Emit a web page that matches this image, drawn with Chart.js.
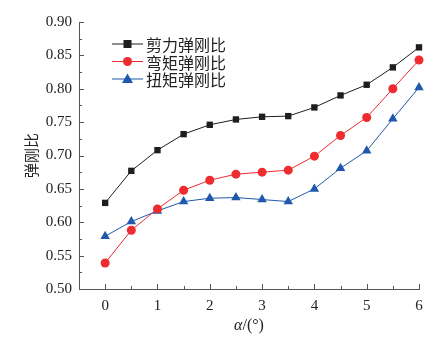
<!DOCTYPE html>
<html>
<head>
<meta charset="utf-8">
<script src="https://cdn.jsdelivr.net/npm/chart.js@4.4.1/dist/chart.umd.min.js"></script>
<style>
html,body{margin:0;padding:0;background:#fff;}
#wrap{position:relative;width:447px;height:339px;}
</style>
</head>
<body>
<div id="wrap"><canvas id="c" width="447" height="339"></canvas></div>
<script>
const alphaDeg = [0, 0.5, 1, 1.5, 2, 2.5, 3, 3.5, 4, 4.5, 5, 5.5, 6];
const shearRatio   = [0.629, 0.677, 0.708, 0.732, 0.746, 0.754, 0.758, 0.759, 0.772, 0.790, 0.806, 0.832, 0.862];
const bendingRatio = [0.539, 0.588, 0.620, 0.648, 0.663, 0.672, 0.675, 0.678, 0.699, 0.730, 0.757, 0.800, 0.843];
const torsionRatio = [0.579, 0.601, 0.617, 0.631, 0.636, 0.637, 0.634, 0.631, 0.650, 0.681, 0.707, 0.755, 0.802];
const seriesNames = ['剪力弹刚比', '弯矩弹刚比', '扭矩弹刚比'];
const xTicks = [0, 1, 2, 3, 4, 5, 6];
const yTicks = [0.50, 0.55, 0.60, 0.65, 0.70, 0.75, 0.80, 0.85, 0.90];
const xTitle = ['α', '/(°)'];
const yTitle = '弹刚比';

const colors = ['#1e1e1e', '#ee2b2f', '#2059ab'];
const markers = ['rect', 'circle', 'triangle'];
const radii = [4.5, 4.5, 5.5];
const serif = '"Liberation Serif", "DejaVu Serif", serif';
const cjk = '"Noto Sans CJK SC", sans-serif';

function pts(arr){ return alphaDeg.map((a,i)=>({x:a, y:arr[i]})); }
const seriesData = [shearRatio, bendingRatio, torsionRatio];

const decor = {
  id: 'decor',
  afterDraw(chart){
    const ctx = chart.ctx, xs = chart.scales.x, ys = chart.scales.y, ca = chart.chartArea;
    ctx.save();
    ctx.strokeStyle = '#555'; ctx.lineWidth = 1;
    for (let v = 0; v <= 6.001; v += 0.5) {
      const px = Math.round(xs.getPixelForValue(v)) + 0.5;
      const len = (Math.abs(v - Math.round(v)) < 1e-6) ? 5 : 3;
      ctx.beginPath(); ctx.moveTo(px, ca.bottom); ctx.lineTo(px, ca.bottom - len); ctx.stroke();
    }
    for (let k = 0; k <= 16; k++) {
      const v = 0.5 + k * 0.025;
      const py = Math.round(ys.getPixelForValue(v)) + 0.5;
      const len = (k % 2 === 0) ? 5 : 3;
      ctx.beginPath(); ctx.moveTo(ca.left, py); ctx.lineTo(ca.left + len, py); ctx.stroke();
    }
    ctx.fillStyle = '#222';
    ctx.textBaseline = 'middle';
    ctx.font = 'italic 16px ' + serif;
    const w1 = ctx.measureText(xTitle[0]).width;
    ctx.font = '16px ' + serif;
    const w2 = ctx.measureText(xTitle[1]).width;
    const cx = (ca.left + ca.right) / 2;
    let sx = cx - (w1 + w2) / 2;
    ctx.textAlign = 'left';
    ctx.font = 'italic 16px ' + serif;
    ctx.fillText(xTitle[0], sx, 326);
    ctx.font = '16px ' + serif;
    ctx.fillText(xTitle[1], sx + w1, 326);
    ctx.save();
    ctx.translate(31, (ca.top + ca.bottom) / 2);
    ctx.rotate(-Math.PI / 2);
    ctx.textAlign = 'center';
    ctx.font = '15px ' + cjk;
    ctx.fillText(yTitle, 0, 0);
    ctx.restore();
    const rowsY = [44, 61.5, 79];
    for (let i = 0; i < 3; i++) {
      const y = rowsY[i];
      ctx.strokeStyle = colors[i]; ctx.lineWidth = 1;
      ctx.beginPath(); ctx.moveTo(112, y); ctx.lineTo(143, y); ctx.stroke();
      ctx.fillStyle = colors[i];
      const mx = 127.5;
      if (markers[i] === 'rect') { ctx.fillRect(mx - 4, y - 4, 8, 8); }
      else if (markers[i] === 'circle') { ctx.beginPath(); ctx.arc(mx, y, 4.5, 0, Math.PI*2); ctx.fill(); }
      else { ctx.beginPath(); ctx.moveTo(mx, y - 5.5); ctx.lineTo(mx + 5.5, y + 4); ctx.lineTo(mx - 5.5, y + 4); ctx.closePath(); ctx.fill(); }
      ctx.fillStyle = '#222';
      ctx.font = '16px ' + cjk;
      ctx.textAlign = 'left';
      ctx.textBaseline = 'middle';
      ctx.fillText(seriesNames[i], 146, y + 1);
    }
    ctx.restore();
  }
};

new Chart(document.getElementById('c'), {
  type: 'line',
  data: {
    datasets: seriesData.map((arr, i) => ({
      label: seriesNames[i],
      data: pts(arr),
      borderColor: colors[i],
      backgroundColor: colors[i],
      borderWidth: 1,
      pointStyle: markers[i],
      pointRadius: radii[i],
      pointHoverRadius: radii[i],
      pointBorderWidth: 0,
      tension: 0,
      fill: false,
      clip: false
    }))
  },
  options: {
    responsive: false,
    animation: false,
    events: [],
    layout: { padding: { top: 22, right: 28, left: 0, bottom: 0 } },
    plugins: { legend: { display: false }, tooltip: { enabled: false } },
    scales: {
      x: {
        type: 'linear', min: -0.5, max: 6,
        afterBuildTicks: s => { s.ticks = xTicks.map(v => ({ value: v })); },
        afterFit: s => { s.height = 50; },
        grid: { display: false, drawTicks: false },
        border: { display: true, color: '#555', width: 1 },
        ticks: { color: '#222', font: { family: serif, size: 15 }, padding: 8, maxRotation: 0,
                 callback: v => String(v) }
      },
      y: {
        type: 'linear', min: 0.5, max: 0.9,
        afterBuildTicks: s => { s.ticks = yTicks.map(v => ({ value: v })); },
        afterFit: s => { s.width = 79; },
        grid: { display: false, drawTicks: false },
        border: { display: true, color: '#555', width: 1 },
        ticks: { color: '#222', font: { family: serif, size: 15 }, padding: 7,
                 callback: v => Number(v).toFixed(2) }
      }
    }
  },
  plugins: [decor]
});
</script>
</body>
</html>
